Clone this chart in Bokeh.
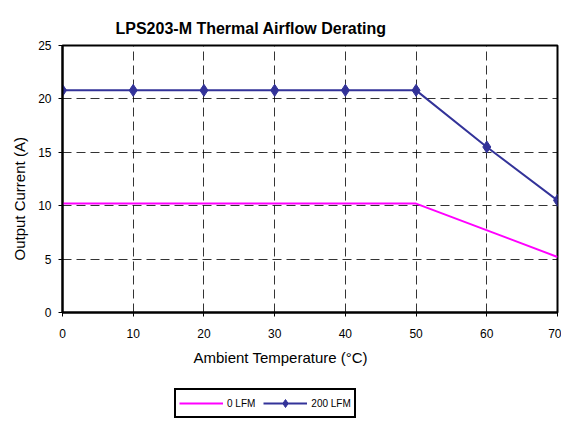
from bokeh.plotting import figure
from bokeh.models import Legend, LegendItem, Title
from bokeh.layouts import column
from bokeh.embed import file_html
from bokeh.resources import INLINE

temps = [0, 10, 20, 30, 40, 50, 60, 70]
lfm0_x = [0, 50, 70]
lfm0_y = [10.2, 10.2, 5.2]
lfm200_x = [0, 10, 20, 30, 40, 50, 60, 70]
lfm200_y = [20.8, 20.8, 20.8, 20.8, 20.8, 20.8, 15.5, 10.5]
y_ticks = [0, 5, 10, 15, 20, 25]
series_names = ["0 LFM", "200 LFM"]

FONT = "Liberation Sans"
C0 = "#FF00FF"
C1 = "#333399"

p = figure(width=561, height=372, output_backend="svg", toolbar_location=None,
           x_range=(0, 70), y_range=(0, 25),
           min_border_left=62, min_border_right=4, min_border_top=45, min_border_bottom=60)

p.title = Title(text="LPS203-M  Thermal Airflow Derating", text_font=FONT,
                text_font_size="16px", text_font_style="bold", align="left", offset=53,
                standoff=18, text_color="black")

p.outline_line_color = "black"
p.outline_line_width = 2

for ax in (p.xaxis[0], p.yaxis[0]):
    ax.axis_line_color = "black"
    ax.axis_line_width = 2
    ax.major_tick_line_color = "black"
    ax.major_tick_line_width = 1
    ax.major_tick_in = 0
    ax.major_tick_out = 4
    ax.minor_tick_line_color = None
    ax.major_label_text_font = FONT
    ax.major_label_text_font_size = "12px"
    ax.major_label_text_color = "black"

p.xaxis.ticker = temps
p.yaxis.ticker = y_ticks
p.xaxis.major_label_standoff = 12
p.yaxis.major_label_standoff = 7

ylabel = Title(text="Output Current (A)", text_font=FONT, text_font_size="15px",
               text_font_style="normal", align="left", offset=52, standoff=16,
               text_color="black")
p.add_layout(ylabel, "left")

xlabel = Title(text="Ambient Temperature (°C)", text_font=FONT, text_font_size="15px",
               text_font_style="normal", align="left", offset=131, standoff=12,
               text_color="black")
p.add_layout(xlabel, "below")

p.xgrid.grid_line_color = "black"
p.ygrid.grid_line_color = "black"
p.xgrid.grid_line_dash = "9 5"
p.ygrid.grid_line_dash = "9 5"
p.xgrid.grid_line_alpha = 0.8
p.ygrid.grid_line_alpha = 0.8

p.line(lfm0_x, lfm0_y, line_color=C0, line_width=2)
p.line(lfm200_x, lfm200_y, line_color=C1, line_width=2)
p.scatter(lfm200_x, lfm200_y, marker="diamond", size=12, fill_color=C1, line_color=C1)

# legend strip below the chart (series drawn out of view, only their legend shows)
lg = figure(width=561, height=50, output_backend="svg", toolbar_location=None,
            x_range=(0, 70), y_range=(100, 101), x_axis_location=None, y_axis_location=None,
            min_border_left=62, min_border_right=4, min_border_top=0, min_border_bottom=0)
lg.outline_line_color = None
lg.xgrid.visible = False
lg.ygrid.visible = False
l0 = lg.line(lfm0_x, lfm0_y, line_color=C0, line_width=2)
l1 = lg.line(lfm200_x, lfm200_y, line_color=C1, line_width=2)
l1m = lg.scatter(lfm200_x, lfm200_y, marker="diamond", size=12, fill_color=C1, line_color=C1)

legend = Legend(items=[LegendItem(label=series_names[0], renderers=[l0]),
                       LegendItem(label=series_names[1], renderers=[l1, l1m])],
                orientation="horizontal", location=(112, 4),
                label_text_font=FONT, label_text_font_size="10px", label_text_color="black",
                glyph_width=44, glyph_height=20, label_standoff=4, spacing=8,
                padding=3, margin=0, border_line_color="black", border_line_width=2,
                border_line_alpha=1.0, label_height=16)
lg.add_layout(legend, "center")

open("out.html", "w").write(file_html(column(p, lg, spacing=0), INLINE))
